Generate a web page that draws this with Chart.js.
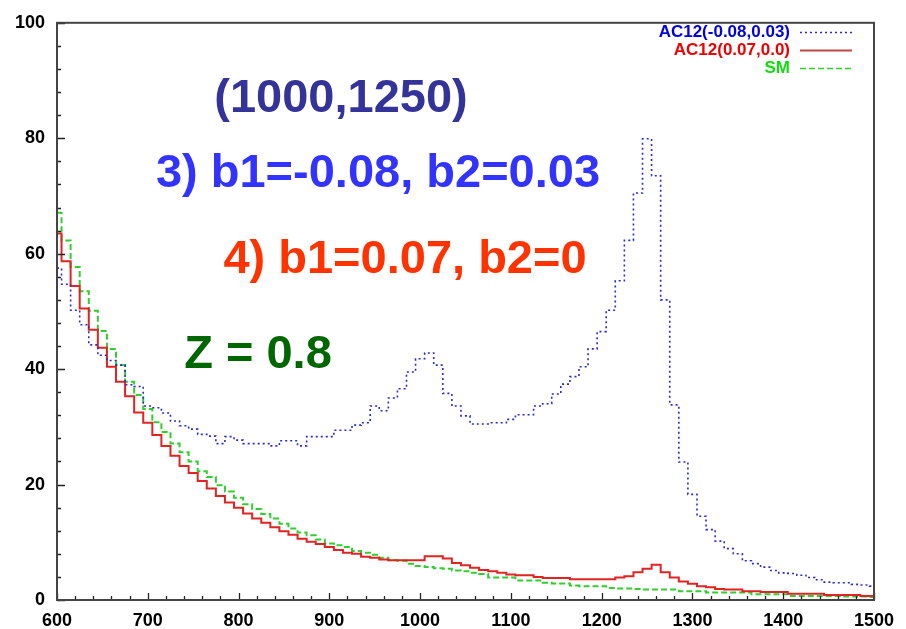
<!DOCTYPE html>
<html>
<head>
<meta charset="utf-8">
<title>AC12 mass spectrum</title>
<script src="https://cdn.jsdelivr.net/npm/chart.js@4.4.1/dist/chart.umd.min.js"></script>
<style>
  html, body { margin: 0; padding: 0; background: #ffffff; }
  #wrap { position: relative; width: 906px; height: 629px; }
</style>
</head>
<body>
<div id="wrap"><canvas id="c" width="906" height="629"></canvas></div>
<script>
// Bin centres (GeV), 10 GeV bins
const massBins = [
  600, 610, 620, 630, 640, 650, 660, 670, 680, 690,
  700, 710, 720, 730, 740, 750, 760, 770, 780, 790,
  800, 810, 820, 830, 840, 850, 860, 870, 880, 890,
  900, 910, 920, 930, 940, 950, 960, 970, 980, 990,
  1000, 1010, 1020, 1030, 1040, 1050, 1060, 1070, 1080, 1090,
  1100, 1110, 1120, 1130, 1140, 1150, 1160, 1170, 1180, 1190,
  1200, 1210, 1220, 1230, 1240, 1250, 1260, 1270, 1280, 1290,
  1300, 1310, 1320, 1330, 1340, 1350, 1360, 1370, 1380, 1390,
  1400, 1410, 1420, 1430, 1440, 1450, 1460, 1470, 1480, 1490,
  1500
];

// AC12(-0.08,0.03)
const ac12Blue = [
  57.5, 54.7, 50.2, 47.7, 44.2, 42.4, 41.5, 40.7, 37.3, 37.0,
  33.6, 33.3, 32.4, 31.0, 30.2, 29.6, 28.7, 28.4, 27.1, 28.3,
  27.7, 27.1, 27.1, 27.1, 26.7, 27.6, 27.6, 26.7, 28.3, 28.3,
  28.3, 29.4, 29.4, 30.3, 30.7, 33.6, 32.8, 35.0, 36.6, 39.5,
  41.8, 42.8, 40.7, 35.8, 33.6, 31.9, 30.5, 30.5, 30.7, 30.7,
  31.3, 32.1, 32.1, 33.6, 34.0, 35.7, 37.4, 38.7, 40.4, 43.5,
  46.5, 50.2, 55.3, 62.3, 70.5, 79.9, 73.5, 52.0, 33.8, 23.9,
  18.3, 14.5, 12.2, 10.2, 8.9, 8.0, 6.8, 6.3, 5.7, 5.1,
  4.7, 4.6, 4.3, 3.9, 3.5, 3.1, 3.0, 3.0, 2.7, 2.6,
  2.4
];

// AC12(0.07,0.0)
const ac12Red = [
  63.5, 58.7, 54.4, 50.5, 46.8, 43.7, 40.4, 37.8, 35.3, 32.5,
  30.7, 28.6, 26.7, 25.0, 23.2, 22.0, 20.6, 19.3, 18.0, 16.9,
  16.0, 15.0, 14.1, 13.4, 12.6, 11.9, 11.3, 10.6, 10.1, 9.7,
  9.2, 8.65, 8.2, 8.0, 7.5, 7.3, 7.0, 6.9, 6.9, 6.9,
  6.9, 7.6, 7.6, 7.2, 6.4, 6.0, 5.6, 5.2, 5.0, 4.7,
  4.4, 4.3, 4.3, 4.0, 3.8, 3.8, 3.8, 3.6, 3.6, 3.6,
  3.6, 3.6, 3.9, 4.1, 4.8, 5.4, 6.1, 4.8, 3.9, 3.2,
  2.8, 2.4, 2.2, 1.9, 1.8, 1.8, 1.5, 1.5, 1.4, 1.4,
  1.4, 1.1, 1.1, 1.1, 1.1, 0.85, 0.85, 0.85, 0.85, 0.7,
  0.7
];

// Standard Model
const smGreen = [
  67.1, 62.3, 57.7, 53.5, 50.1, 46.6, 43.5, 40.7, 37.8, 35.5,
  33.1, 30.8, 29.1, 27.1, 25.6, 24.0, 22.3, 21.3, 19.9, 18.8,
  17.7, 16.6, 15.75, 14.9, 14.1, 13.2, 12.4, 11.7, 11.2, 10.5,
  9.8, 9.5, 9.2, 8.5, 8.2, 7.85, 7.3, 6.9, 6.8, 6.3,
  5.9, 5.7, 5.5, 5.4, 5.1, 5.0, 4.7, 4.5, 3.9, 3.9,
  3.9, 3.4, 3.4, 3.4, 3.0, 2.85, 2.85, 2.5, 2.4, 2.4,
  2.4, 2.1, 2.0, 2.0, 1.9, 1.8, 1.8, 1.8, 1.8, 1.5,
  1.5, 1.5, 1.3, 1.3, 1.3, 1.3, 1.3, 1.0, 1.0, 1.0,
  1.0, 0.7, 0.7, 0.7, 0.7, 0.7, 0.7, 0.6, 0.6, 0.6,
  0.5
];

const seriesNames = ['AC12(-0.08,0.03)', 'AC12(0.07,0.0)', 'SM'];

const annotations = [
  { text: '(1000,1250)', x: 341, y: 112, color: '#333399' },
  { text: '3) b1=-0.08, b2=0.03', x: 378, y: 187, color: '#3333ff' },
  { text: '4) b1=0.07, b2=0', x: 405, y: 273, color: '#ff3300' },
  { text: 'Z = 0.8', x: 258, y: 368, color: '#006600' }
];

const FONT = '"Liberation Sans", Arial, Helvetica, sans-serif';

function toPoints(vals) {
  return massBins.map((m, i) => ({ x: m, y: vals[i] }));
}

const styles = [
  { color: '#2a2ad0', text: '#0000e0', width: 1.6, dash: [2, 3] },
  { color: '#e02424', text: '#ee0000', width: 2, dash: [] },
  { color: '#33cc33', text: '#11dd11', width: 2, dash: [6, 3] }
];

// Frame, inner tick marks, legend and text labels
const decorations = {
  id: 'decorations',
  afterDatasetsDraw(chart) {
    const { ctx, chartArea: a, scales } = chart;
    const xs = scales.x, ys = scales.y;
    ctx.save();

    // tick marks pointing into the plot
    ctx.strokeStyle = '#222';
    ctx.lineWidth = 1.3;
    ctx.beginPath();
    for (let v = 600; v <= 1500; v += 20) {
      const px = Math.round(xs.getPixelForValue(v)) + 0.5;
      const len = (v % 100 === 0) ? 7 : 4;
      ctx.moveTo(px, a.bottom);
      ctx.lineTo(px, a.bottom - len);
    }
    for (let v = 0; v <= 100; v += 4) {
      const py = Math.round(ys.getPixelForValue(v)) + 0.5;
      const len = (v % 20 === 0) ? 8 : 4;
      ctx.moveTo(a.left, py);
      ctx.lineTo(a.left + len, py);
    }
    ctx.stroke();

    // frame
    ctx.strokeStyle = '#444';
    ctx.lineWidth = 2;
    ctx.strokeRect(a.left, a.top, a.right - a.left, a.bottom - a.top);

    // legend
    ctx.font = 'bold 17px ' + FONT;
    ctx.textAlign = 'right';
    ctx.textBaseline = 'middle';
    const rows = [32, 50, 68];
    seriesNames.forEach((name, i) => {
      const s = styles[i];
      ctx.fillStyle = s.text;
      ctx.fillText(name, 790, rows[i]);
      ctx.strokeStyle = i === 1 ? '#c04848' : s.color;
      ctx.lineWidth = i === 1 ? 2 : 1.6;
      ctx.setLineDash(s.dash);
      ctx.beginPath();
      ctx.moveTo(800, rows[i] + 0.5);
      ctx.lineTo(852, rows[i] + 0.5);
      ctx.stroke();
      ctx.setLineDash([]);
    });

    // labels inside the plot
    ctx.font = 'bold 47px ' + FONT;
    ctx.textAlign = 'center';
    ctx.textBaseline = 'alphabetic';
    annotations.forEach(t => {
      ctx.fillStyle = t.color;
      ctx.fillText(t.text, t.x, t.y);
    });
    ctx.restore();
  }
};

const datasets = [ac12Blue, ac12Red, smGreen].map((vals, i) => ({
  label: seriesNames[i],
  data: toPoints(vals),
  stepped: 'middle',
  borderColor: styles[i].color,
  borderWidth: styles[i].width,
  borderDash: styles[i].dash,
  pointRadius: 0,
  fill: false,
  tension: 0
}));
// draw SM first, then red, blue on top
datasets[0].order = 1;
datasets[1].order = 2;
datasets[2].order = 3;

new Chart(document.getElementById('c'), {
  type: 'line',
  data: { datasets },
  options: {
    responsive: false,
    devicePixelRatio: 1,
    animation: false,
    layout: { padding: { top: 14, right: 32, left: 0, bottom: 0 } },
    plugins: { legend: { display: false }, tooltip: { enabled: false } },
    scales: {
      x: {
        type: 'linear',
        min: 600,
        max: 1500,
        grid: { display: false, drawTicks: false },
        border: { display: false },
        ticks: {
          stepSize: 100,
          padding: 10,
          maxRotation: 0,
          color: '#000',
          font: { family: FONT, size: 18, weight: 'bold' },
          callback: (v) => String(v)
        },
        afterFit(scale) { scale.height = 29; }
      },
      y: {
        min: 0,
        max: 100,
        grid: { display: false, drawTicks: false },
        border: { display: false },
        ticks: {
          stepSize: 20,
          padding: 12,
          color: '#000',
          font: { family: FONT, size: 18, weight: 'bold' },
          callback: (v) => String(v)
        },
        afterFit(scale) { scale.width = 57; }
      }
    }
  },
  plugins: [decorations]
});
</script>
</body>
</html>
